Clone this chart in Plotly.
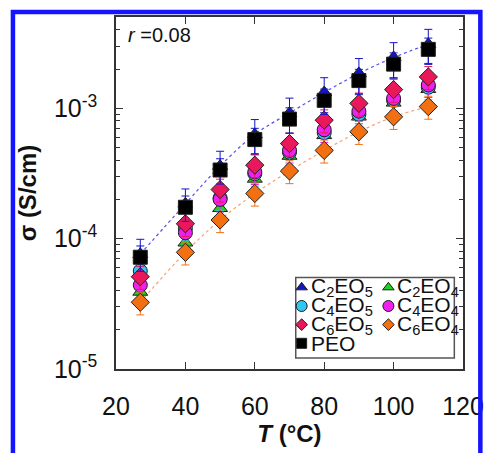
import plotly.graph_objects as go

# ---------------- data ----------------
T = [27, 40, 50, 60, 70, 80, 90, 100, 110]

C2EO5 = [7.6e-5, 1.85e-4, 3.6e-4, 6.3e-4, 9.2e-4, 1.32e-3, 1.85e-3, 2.45e-3, 3.1e-3]
C2EO4 = [3.9e-5, 9.3e-5, 1.71e-4, 2.87e-4, 4.3e-4, 6.2e-4, 8.6e-4, 1.1e-3, 1.4e-3]
C4EO5 = [5.65e-5, 1.2e-4, 2.05e-4, 3.15e-4, 4.6e-4, 6.5e-4, 9.0e-4, 1.15e-3, 1.45e-3]
C4EO4 = [4.4e-5, 1.11e-4, 2.0e-4, 3.25e-4, 4.75e-4, 6.84e-4, 9.5e-4, 1.19e-3, 1.51e-3]
C6EO5 = [5.1e-5, 1.30e-4, 2.38e-4, 3.66e-4, 5.36e-4, 8.1e-4, 1.09e-3, 1.39e-3, 1.74e-3]
C6EO4 = [3.25e-5, 7.85e-5, 1.39e-4, 2.22e-4, 3.3e-4, 4.75e-4, 6.6e-4, 8.6e-4, 1.03e-3]
PEO   = [7.2e-5, 1.74e-4, 3.36e-4, 5.75e-4, 8.26e-4, 1.15e-3, 1.63e-3, 2.18e-3, 2.83e-3]

ERR_PCT = {"C2EO5": 30, "C2EO4": 20, "C4EO5": 20, "C4EO4": 20, "C6EO5": 20, "C6EO4": 20, "PEO": 22}

SERIES = ["C2EO5", "C2EO4", "C4EO5", "C4EO4", "C6EO5", "C6EO4", "PEO"]
VALUES = {"C2EO5": C2EO5, "C2EO4": C2EO4, "C4EO5": C4EO5, "C4EO4": C4EO4,
          "C6EO5": C6EO5, "C6EO4": C6EO4, "PEO": PEO}
LABELS = {"C2EO5": "C<sub>2</sub>EO<sub>5</sub>", "C2EO4": "C<sub>2</sub>EO<sub>4</sub>",
          "C4EO5": "C<sub>4</sub>EO<sub>5</sub>", "C4EO4": "C<sub>4</sub>EO<sub>4</sub>",
          "C6EO5": "C<sub>6</sub>EO<sub>5</sub>", "C6EO4": "C<sub>6</sub>EO<sub>4</sub>",
          "PEO": "PEO"}

XTICKS = [20, 40, 60, 80, 100, 120]
YTICKS = [1e-5, 1e-4, 1e-3]
YTICKTEXT = ["10<sup>-5</sup>", "10<sup>-4</sup>", "10<sup>-3</sup>"]

# ---------------- style ----------------
FONT = "Arial, Liberation Sans, sans-serif"
COLORS = {"C2EO5": "#1414c8", "C2EO4": "#22d022", "C4EO5": "#2ec8f0", "C4EO4": "#f020f0",
          "C6EO5": "#e8185a", "C6EO4": "#f27012", "PEO": "#000000"}
SYMBOLS = {"C2EO5": "triangle-up", "C2EO4": "triangle-up", "C4EO5": "circle", "C4EO4": "circle",
           "C6EO5": "diamond", "C6EO4": "diamond", "PEO": "square"}
SIZES = {"C2EO5": 13, "C2EO4": 13, "C4EO5": 14, "C4EO4": 14, "C6EO5": 14, "C6EO4": 14, "PEO": 14}
LEG_SIZES = {"triangle-up": 10, "circle": 11, "diamond": 9, "square": 10}

fig = go.Figure()

# fit-like dotted lines through C2EO5 and C6EO4
fig.add_trace(go.Scatter(x=T, y=C2EO5, mode="lines", line=dict(color="#5050f0", width=1.2, dash="dot", shape="spline"),
                         showlegend=False, hoverinfo="skip"))
fig.add_trace(go.Scatter(x=T, y=C6EO4, mode="lines", line=dict(color="#f5a070", width=1.2, dash="dot", shape="spline"),
                         showlegend=False, hoverinfo="skip"))

for s in SERIES:
    fig.add_trace(go.Scatter(
        x=T, y=VALUES[s], mode="markers", name=LABELS[s], showlegend=False,
        marker=dict(symbol=SYMBOLS[s], size=SIZES[s], color=COLORS[s],
                    line=dict(color="#202020", width=1)),
        error_y=dict(type="percent", value=ERR_PCT[s], color=COLORS[s] if s != "PEO" else "#1414c8",
                     thickness=1, width=4),
    ))

# ---------------- manual legend (plot-fraction coords on overlay axes) ----------------
LEG_COL_X = [0.535, 0.785]
LEG_ROW_Y = [0.232, 0.179, 0.126, 0.073]
LEG_ORDER = [["C2EO5", "C2EO4"], ["C4EO5", "C4EO4"], ["C6EO5", "C6EO4"], ["PEO"]]
annotations = []
for r, row in enumerate(LEG_ORDER):
    for c, s in enumerate(row):
        fig.add_trace(go.Scatter(
            x=[LEG_COL_X[c]], y=[LEG_ROW_Y[r]], xaxis="x2", yaxis="y2", mode="markers",
            showlegend=False, hoverinfo="skip",
            marker=dict(symbol=SYMBOLS[s], size=LEG_SIZES[SYMBOLS[s]], color=COLORS[s],
                        line=dict(color="#202020", width=1))))
        annotations.append(dict(x=LEG_COL_X[c] + 0.02, y=LEG_ROW_Y[r], xref="paper", yref="paper",
                                text=LABELS[s], showarrow=False, xanchor="left", yanchor="middle",
                                font=dict(family=FONT, size=21, color="#111")))

annotations.append(dict(x=0.03, y=0.95, xref="paper", yref="paper", text="<i>r</i> =0.08",
                        showarrow=False, xanchor="left", yanchor="middle",
                        font=dict(family=FONT, size=20, color="#111")))

shapes = [
    dict(type="rect", xref="paper", yref="paper", x0=0.518, x1=0.975, y0=0.031, y1=0.260,
         line=dict(color="#555", width=1.5), fillcolor="white", layer="below"),
    dict(type="rect", xref="paper", yref="paper", x0=-0.297, x1=1.05, y0=-0.3, y1=1.014,
         line=dict(color="#1414ff", width=4.5), fillcolor="rgba(0,0,0,0)", layer="above"),
]

minor_vals = [k * 10.0 ** e for e in (-5, -4, -3) for k in range(2, 10)]

fig.update_layout(
    width=496, height=453, autosize=False,
    margin=dict(l=116, r=21, t=17, b=78),
    paper_bgcolor="white", plot_bgcolor="white",
    font=dict(family=FONT, color="#111"),
    showlegend=False,
    xaxis=dict(range=[20, 120], tickvals=XTICKS, ticks="inside", ticklen=7, tickwidth=1.2,
               tickcolor="#333", mirror="ticks", showline=True, linecolor="#333", linewidth=1.5,
               showgrid=False, zeroline=False, tickfont=dict(size=25, family=FONT),
               ticklabelstandoff=14,
               title=dict(text="<b><i>T</i> (°C)</b>", font=dict(size=24, family=FONT), standoff=4)),
    yaxis=dict(type="log", range=[-5, -2.3], tickvals=YTICKS, ticktext=YTICKTEXT,
               ticks="inside", ticklen=7, tickwidth=1.2, tickcolor="#333",
               minor=dict(ticks="inside", ticklen=4, tickvals=minor_vals, tickcolor="#333", showgrid=False),
               mirror="ticks", showline=True, linecolor="#333", linewidth=1.5,
               showgrid=False, zeroline=False, tickfont=dict(size=25, family=FONT),
               ticklabelstandoff=12,
               title=dict(text="<b>σ (S/cm)</b>", font=dict(size=24, family=FONT), standoff=10)),
    xaxis2=dict(range=[0, 1], overlaying="x", visible=False, fixedrange=True),
    yaxis2=dict(range=[0, 1], overlaying="y", visible=False, fixedrange=True),
    annotations=annotations,
    shapes=shapes,
)

fig.write_html("out.html", config={"displayModeBar": False},
               post_script="document.body.style.margin='0px';document.body.style.overflow='hidden';")
